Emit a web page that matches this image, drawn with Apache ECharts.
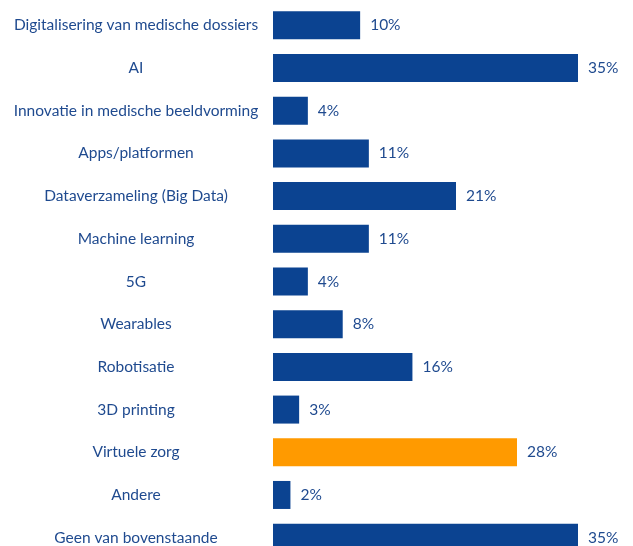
<!DOCTYPE html>
<html><head><meta charset="utf-8">
<script src="https://cdn.jsdelivr.net/npm/echarts@6/dist/echarts.min.js"></script>
<style>html,body{margin:0;padding:0;background:#fff}#c{width:633px;height:546px}</style>
</head><body><div id="c"></div>
<script>
const categories = ["Digitalisering van medische dossiers","AI","Innovatie in medische beeldvorming","Apps/platformen","Dataverzameling (Big Data)","Machine learning","5G","Wearables","Robotisatie","3D printing","Virtuele zorg","Andere","Geen van bovenstaande"];
const values = [10,35,4,11,21,11,4,8,16,3,28,2,35];
const highlight = "Virtuele zorg";
const chart = echarts.init(document.getElementById('c'));
chart.setOption({
  animation:false,
  grid:{left:273, top:4, width:348.57, height:555, outerBoundsMode:'none', containLabel:false},
  xAxis:{type:'value', min:0, max:40, show:false},
  yAxis:{type:'category', inverse:true, data:categories,
    axisLine:{show:false}, axisTick:{show:false},
    axisLabel:{align:'center', margin:137, color:'#1f4a8f', fontFamily:'Lato', fontSize:15.5, padding:[5,0,0,0]}},
  series:[{type:'bar', barWidth:28,
    data: values.map((v,i)=>({value:v, itemStyle:{color: categories[i]===highlight ? '#ff9a00' : '#0b4391'}})),
    label:{show:true, position:'right', distance:10, formatter:'{c}%', color:'#1f4a8f', fontFamily:'Lato', fontSize:15.5, padding:[3,0,0,0]}}]
});
</script></body></html>
